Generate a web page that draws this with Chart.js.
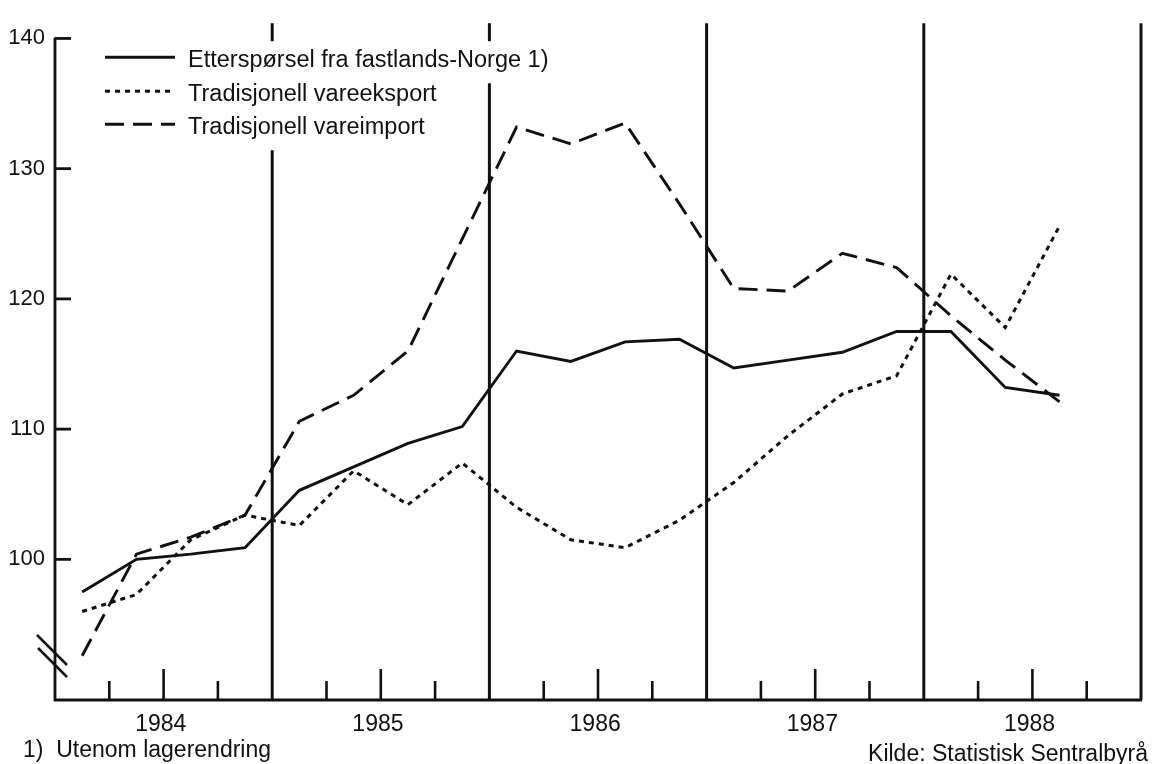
<!DOCTYPE html>
<html lang="no">
<head>
<meta charset="utf-8">
<title>Etterspørsel, vareeksport og vareimport 1984-1988</title>
<script src="https://cdn.jsdelivr.net/npm/chart.js@4.4.1/dist/chart.umd.min.js"></script>
<style>
    html, body { margin: 0; padding: 0; background: #fff; }
    body { width: 1152px; height: 764px; position: relative; overflow: hidden;
           font-family: "Liberation Sans", Arial, Helvetica, sans-serif; color: #111; }
    #wrap { position: absolute; left: 0; top: 0; width: 1152px; height: 764px; }
    .note { position: absolute; font-size: 23px; line-height: 1; white-space: pre; }
    #fotnote { left: 23px; top: 738px; }
    #kilde { right: 4px; top: 742px; }
</style>
</head>
<body>
<div id="wrap"><canvas id="chart"></canvas></div>
<div class="note" id="fotnote">1)  Utenom lagerendring</div>
<div class="note" id="kilde">Kilde: Statistisk Sentralbyrå</div>
<script>
// ================== DATA ==================
const kvartaler = [
    '1984K1', '1984K2', '1984K3', '1984K4',
    '1985K1', '1985K2', '1985K3', '1985K4',
    '1986K1', '1986K2', '1986K3', '1986K4',
    '1987K1', '1987K2', '1987K3', '1987K4',
    '1988K1', '1988K2', '1988K3', '1988K4'
];
const aarstall = ['1984', '1985', '1986', '1987', '1988'];
const yTicks = [100, 110, 120, 130, 140];

const etterspoersel = [97.5, 100.0, 100.4, 100.9, 105.3, 107.1, 108.9, 110.2, 116.0, 115.2,
                       116.7, 116.9, 114.7, 115.3, 115.9, 117.5, 117.5, 113.2, 112.6];
const vareeksport = [96.0, 97.3, 101.5, 103.4, 102.6, 106.8, 104.2, 107.4, 104.0, 101.5,
                     100.9, 103.0, 105.9, 109.5, 112.7, 114.1, 121.9, 117.8, 125.6];
const vareimport = [92.6, 100.4, 101.7, 103.4, 110.6, 112.6, 116.0, 124.6, 133.2, 131.9,
                    133.5, 127.3, 120.8, 120.6, 123.5, 122.4, 118.7, 115.3, 112.1];

const INK = '#111';
const FONT = '"Liberation Sans", Arial, Helvetica, sans-serif';

// legend placement (relative to chart area)
const LEGEND_SAMPLE_X = [50, 120];
const LEGEND_TEXT_X = 133;
const LEGEND_BASELINES = [44, 78, 111];
const LEGEND_FONT = `23.5px ${FONT}`;

function line(ctx, x1, y1, x2, y2) {
    ctx.beginPath();
    ctx.moveTo(x1, y1);
    ctx.lineTo(x2, y2);
    ctx.stroke();
}

// ================== PLUGINS ==================
// axes, quarter ticks, year separators and the axis break
const rammePlugin = {
    id: 'ramme',
    beforeDatasetsDraw(chart) {
        const { ctx, chartArea: a, scales: { x, y } } = chart;
        ctx.save();
        ctx.strokeStyle = INK;
        ctx.lineCap = 'butt';
        ctx.lineWidth = 2.8;

        // left axis + bottom axis
        line(ctx, a.left, y.getPixelForValue(140) - 1, a.left, a.bottom + 1);
        line(ctx, a.left - 1, a.bottom, a.right + 1, a.bottom);

        // y ticks pointing inward
        yTicks.forEach(v => {
            const py = y.getPixelForValue(v);
            line(ctx, a.left, py, a.left + 16, py);
        });

        // legend text widths -> where separators get cut
        ctx.font = LEGEND_FONT;
        const textEnds = chart.data.datasets.map(ds => a.left + LEGEND_TEXT_X + ctx.measureText(ds.label).width);

        for (let i = 1; i <= kvartaler.length; i++) {
            const px = x.getPixelForValue(i - 0.5);
            if (i % 4 === 0) {
                ctx.lineWidth = 3;
                let lastRow = -1;
                textEnds.forEach((end, r) => { if (end > px - 10) lastRow = r; });
                if (lastRow < 0) {
                    line(ctx, px, a.top, px, a.bottom);
                } else {
                    line(ctx, px, a.top, px, a.top + 18);
                    line(ctx, px, a.top + LEGEND_BASELINES[lastRow] + 16, px, a.bottom);
                }
            } else {
                ctx.lineWidth = 2.6;
                const h = (i % 4 === 2) ? 31 : 19;
                line(ctx, px, a.bottom, px, a.bottom - h);
            }
        }

        // axis break mark
        ctx.lineWidth = 2.5;
        line(ctx, a.left - 18, a.bottom - 65, a.left + 12, a.bottom - 35);
        line(ctx, a.left - 17, a.bottom - 52, a.left + 12, a.bottom - 23);
        ctx.restore();
    },
    afterDatasetsDraw(chart) {
        const { ctx, chartArea: a } = chart;
        ctx.save();
        chart.data.datasets.forEach((ds, r) => {
            const base = a.top + LEGEND_BASELINES[r];
            ctx.strokeStyle = INK;
            ctx.lineWidth = ds.borderWidth;
            ctx.setLineDash(ds.borderDash || []);
            line(ctx, a.left + LEGEND_SAMPLE_X[0], base - 10, a.left + LEGEND_SAMPLE_X[1], base - 10);
            ctx.setLineDash([]);
            ctx.fillStyle = INK;
            ctx.font = LEGEND_FONT;
            ctx.textBaseline = 'alphabetic';
            ctx.textAlign = 'left';
            ctx.fillText(ds.label, a.left + LEGEND_TEXT_X, base);
        });
        ctx.restore();
    }
};

// ================== CHART ==================
const ctx = document.getElementById('chart').getContext('2d');

const chart = new Chart(ctx, {
    type: 'line',
    data: {
        labels: kvartaler,
        datasets: [
            { label: 'Etterspørsel fra fastlands-Norge 1)', data: etterspoersel, borderColor: INK, borderWidth: 2.9, borderDash: [], pointRadius: 0, tension: 0, fill: false },
            { label: 'Tradisjonell vareeksport', data: vareeksport, borderColor: INK, borderWidth: 3, borderDash: [5, 5], pointRadius: 0, tension: 0, fill: false },
            { label: 'Tradisjonell vareimport', data: vareimport, borderColor: INK, borderWidth: 2.9, borderDash: [19, 9], pointRadius: 0, tension: 0, fill: false }
        ]
    },
    options: {
        responsive: true,
        maintainAspectRatio: false,
        animation: false,
        layout: { padding: { top: 14, right: 11, left: 0, bottom: 0 } },
        plugins: { legend: { display: false }, tooltip: { enabled: false } },
        scales: {
            x: {
                type: 'category',
                offset: true,
                grid: { display: false, drawTicks: false },
                border: { display: false },
                ticks: {
                    autoSkip: false, maxRotation: 0, minRotation: 0,
                    padding: 11, labelOffset: -30,
                    color: INK, font: { family: FONT, size: 23 },
                    callback: (v, i) => (i % 4 === 2 ? aarstall[Math.floor(i / 4)] : '')
                },
                afterFit: s => { s.height = 64; }
            },
            y: {
                min: 89.2,
                max: 141.17,
                grid: { display: false, drawTicks: false },
                border: { display: false },
                afterBuildTicks: s => { s.ticks = yTicks.map(v => ({ value: v })); },
                ticks: { padding: 10, color: INK, font: { family: FONT, size: 22 } },
                afterFit: s => { s.width = 55; }
            }
        }
    },
    plugins: [rammePlugin]
});
</script>
</body>
</html>
